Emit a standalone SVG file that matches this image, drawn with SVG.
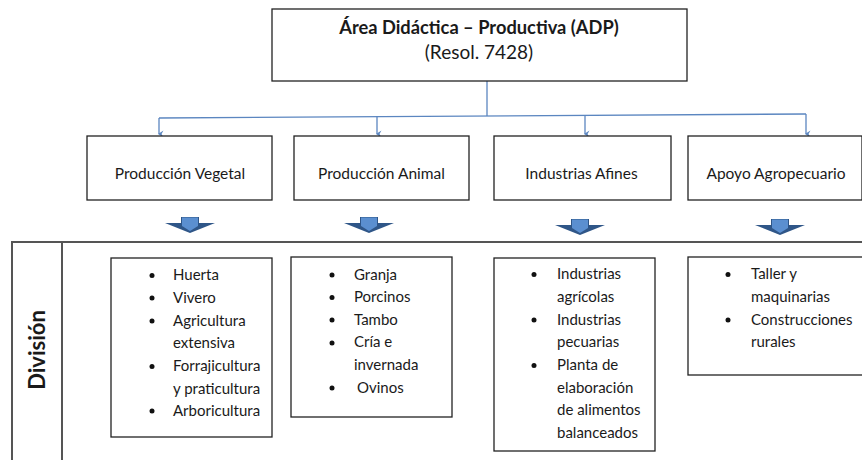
<svg xmlns="http://www.w3.org/2000/svg" width="862" height="460" viewBox="0 0 862 460">
<defs>
<style>
text{font-family:Lato,"Open Sans","Liberation Sans",sans-serif;fill:#1a1a1a}
.box{fill:#fff;stroke:#222;stroke-width:1.3}
.lbl{font-size:15.5px;text-anchor:middle}
.li{font-size:15px}
.conn{stroke:#5b86c0;stroke-width:1.3;fill:none}
.frame{stroke:#555;stroke-width:2;fill:none}
.wing{fill:#2f5688}
.shaft{fill:#5b8fd0}
</style>
<marker id="ah" markerWidth="8" markerHeight="8" refX="4" refY="6" orient="auto-start-reverse" markerUnits="userSpaceOnUse" viewBox="0 0 8 8">
<path d="M0.5,1.5 L4,7 L7.5,1.5 L4,3.5 Z" fill="#5b86c0"/>
</marker>
<g id="blockArrow">
<polygon class="wing" points="-25,6 -9,6 -9,0 9,0 9,6 25,6 0,16"/>
<polygon class="shaft" points="-8,0.5 8,0.5 8,9 0,14 -8,9"/>
</g>
</defs>

<g id="connectors">
<line class="conn" x1="487" y1="81" x2="487" y2="116"/>
<line class="conn" x1="159" y1="118" x2="806" y2="114"/>
<line class="conn" x1="159" y1="118" x2="159" y2="134" marker-end="url(#ah)"/>
<line class="conn" x1="377" y1="117" x2="377" y2="134" marker-end="url(#ah)"/>
<line class="conn" x1="585" y1="115" x2="585" y2="134" marker-end="url(#ah)"/>
<line class="conn" x1="806" y1="114" x2="806" y2="134" marker-end="url(#ah)"/>
<use href="#blockArrow" x="190" y="217"/>
<use href="#blockArrow" x="369" y="217"/>
<use href="#blockArrow" x="580" y="219"/>
<use href="#blockArrow" x="780" y="219"/>
</g>

<g id="root">
<rect class="box" x="272" y="9" width="415" height="72"/>
<text x="479" y="34" text-anchor="middle" font-size="18.3" font-weight="bold">Área Didáctica – Productiva (ADP)</text>
<text x="479" y="59" text-anchor="middle" font-size="19">(Resol. 7428)</text>
</g>

<g id="prodVegetal">
<rect class="box" x="87" y="136" width="185" height="64"/>
<text class="lbl" x="180" y="179">Producción  Vegetal</text>
</g>
<g id="prodAnimal">
<rect class="box" x="294" y="136" width="175" height="64"/>
<text class="lbl" x="381.5" y="179">Producción  Animal</text>
</g>
<g id="industrias">
<rect class="box" x="494" y="136" width="177" height="64"/>
<text class="lbl" x="581.5" y="179">Industrias Afines</text>
</g>
<g id="apoyo">
<rect class="box" x="688" y="136" width="174" height="64"/>
<text class="lbl" x="776" y="179">Apoyo Agropecuario</text>
</g>

<g id="frame">
<polyline class="frame" points="12,460 12,242 862,242"/>
<line class="frame" x1="62" y1="242" x2="62" y2="460"/>
<text transform="translate(45,350) rotate(-90)" text-anchor="middle" font-size="22" font-weight="bold">División</text>
</g>

<g id="listVegetal">
<rect class="box" x="111" y="258" width="161" height="179"/>
<g fill="#111">
<circle cx="152" cy="275.5" r="2.5"/><circle cx="152" cy="298" r="2.5"/><circle cx="152" cy="321" r="2.5"/><circle cx="152" cy="366.5" r="2.5"/><circle cx="152" cy="411" r="2.5"/>
</g>
<text class="li" x="173" y="280">Huerta</text>
<text class="li" x="173" y="302.7">Vivero</text>
<text class="li" x="173" y="325.5">Agricultura</text>
<text class="li" x="173" y="348">extensiva</text>
<text class="li" x="173" y="371">Forrajicultura</text>
<text class="li" x="173" y="393.5">y praticultura</text>
<text class="li" x="173" y="416">Arboricultura</text>
</g>

<g id="listAnimal">
<rect class="box" x="291" y="257" width="161" height="160"/>
<g fill="#111">
<circle cx="332" cy="275" r="2.5"/><circle cx="332" cy="297.5" r="2.5"/><circle cx="332" cy="320" r="2.5"/><circle cx="332" cy="343" r="2.5"/><circle cx="332" cy="388" r="2.5"/>
</g>
<text class="li" x="354" y="279.5">Granja</text>
<text class="li" x="354" y="302">Porcinos</text>
<text class="li" x="354" y="324.7">Tambo</text>
<text class="li" x="354" y="347.3">Cría e</text>
<text class="li" x="354" y="370">invernada</text>
<text class="li" x="357" y="392.7">Ovinos</text>
</g>

<g id="listIndustrias">
<rect class="box" x="494" y="258" width="161" height="193"/>
<g fill="#111">
<circle cx="534" cy="274.5" r="2.5"/><circle cx="534" cy="320" r="2.5"/><circle cx="534" cy="365.5" r="2.5"/>
</g>
<text class="li" x="557" y="279">Industrias</text>
<text class="li" x="557" y="302">agrícolas</text>
<text class="li" x="557" y="324.7">Industrias</text>
<text class="li" x="557" y="347">pecuarias</text>
<text class="li" x="557" y="370">Planta de</text>
<text class="li" x="557" y="392.7">elaboración</text>
<text class="li" x="557" y="415">de alimentos</text>
<text class="li" x="557" y="438">balanceados</text>
</g>

<g id="listApoyo">
<rect class="box" x="688" y="257" width="180" height="118"/>
<g fill="#111">
<circle cx="728" cy="274.5" r="2.5"/><circle cx="728" cy="320" r="2.5"/>
</g>
<text class="li" x="751" y="279">Taller y</text>
<text class="li" x="751" y="302">maquinarias</text>
<text class="li" x="751" y="324.7">Construcciones</text>
<text class="li" x="751" y="347">rurales</text>
</g>
</svg>
